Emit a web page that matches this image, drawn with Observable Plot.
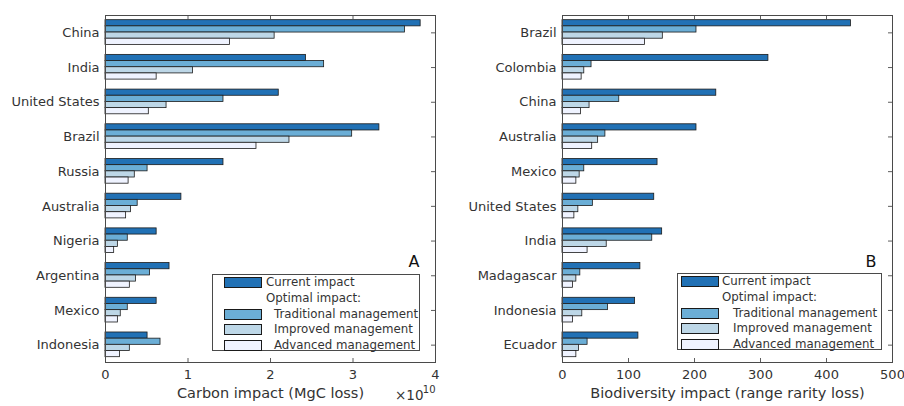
<!DOCTYPE html>
<html><head><meta charset="utf-8">
<script src="https://cdn.jsdelivr.net/npm/d3@7"></script>
<script src="https://cdn.jsdelivr.net/npm/@observablehq/plot@0.6"></script>
<style>
body{margin:0;background:#fff;font-family:"DejaVu Sans",sans-serif;}
#wrap{position:relative;width:904px;height:406px;overflow:hidden;background:#fff;}
.panel{position:absolute;top:0;}
.panel svg{overflow:visible;}
.legend{position:absolute;border:1px solid #4a4a4a;background:#fff;box-sizing:border-box;font-size:11.8px;color:#333;font-family:"DejaVu Sans",sans-serif;}
.legend .sw{position:absolute;height:11px;width:38px;border:1px solid #1a1a1a;box-sizing:border-box;}
.legend .tx{position:absolute;white-space:nowrap;line-height:14px;}
</style></head><body><div id="wrap"></div><script>
// ---------- Data ----------
const seriesNames = ["Current impact", "Traditional management", "Improved management", "Advanced management"];
const seriesColors = ["#2171b5", "#6baed6", "#bdd7e7", "#eff3ff"];

// Panel A: carbon impact (MgC loss)
const countriesA = ["China","India","United States","Brazil","Russia","Australia","Nigeria","Argentina","Mexico","Indonesia"];
const currentA     = [3.82e10, 2.43e10, 2.10e10, 3.32e10, 1.43e10, 0.92e10, 0.62e10, 0.776e10, 0.62e10, 0.51e10];
const traditionalA = [3.63e10, 2.65e10, 1.43e10, 2.99e10, 0.51e10, 0.39e10, 0.27e10, 0.54e10, 0.27e10, 0.667e10];
const improvedA    = [2.05e10, 1.06e10, 0.74e10, 2.23e10, 0.355e10, 0.31e10, 0.15e10, 0.37e10, 0.185e10, 0.295e10];
const advancedA    = [1.51e10, 0.62e10, 0.525e10, 1.83e10, 0.28e10, 0.25e10, 0.105e10, 0.295e10, 0.15e10, 0.175e10];
const xTicksA = [0, 1e10, 2e10, 3e10, 4e10];
const xLabelA = "Carbon impact (MgC loss)";

// Panel B: biodiversity impact (range rarity loss)
const countriesB = ["Brazil","Colombia","China","Australia","Mexico","United States","India","Madagascar","Indonesia","Ecuador"];
const currentB     = [437, 312, 233, 203, 144, 139, 151, 118, 110, 115];
const traditionalB = [203, 44, 86, 65, 33, 46, 136, 27, 69, 38];
const improvedB    = [152, 33, 41, 54, 26, 24, 67, 21, 30, 25];
const advancedB    = [125, 29, 28, 45, 21, 18, 38, 16, 16, 21];
const xTicksB = [0, 100, 200, 300, 400, 500];
const xLabelB = "Biodiversity impact (range rarity loss)";

const legendHeader = "Optimal impact:";

// ---------- Drawing ----------
const W = 452, H = 406, MT = 15, MB = 44;
const INK = "#333333";
const wrap = document.getElementById("wrap");

function panel({left, ml, mr, countries, series, xTicks, tickFormat, xLabel, letter, exponent}) {
  const plotH = H - MT - MB;
  const plotW = W - ml - mr;
  const band = plotH / countries.length;
  const barH = band * 0.178;
  const off = band * 0.135;
  const rows = countries.map((c, i) => ({country: c, v: series.map(s => s[i])}));
  const marks = [];
  // left ticks (behind bars)
  marks.push(Plot.tickY(countries, {y: d => d, insetRight: plotW - 4, stroke: INK, strokeWidth: 0.8}));
  series.forEach((s, k) => {
    marks.push(Plot.barX(rows, {
      y: "country", x: d => d.v[k], fill: seriesColors[k],
      stroke: "#1a1a1a", strokeWidth: 0.8,
      insetTop: off + k * barH, insetBottom: band - off - (k + 1) * barH
    }));
  });
  const inner = xTicks.slice(1, -1);
  marks.push(Plot.tickX(inner, {x: d => d, insetTop: plotH - 4, stroke: INK, strokeWidth: 0.8}));
  marks.push(Plot.tickX(inner, {x: d => d, insetBottom: plotH - 4, stroke: INK, strokeWidth: 0.8}));
  marks.push(Plot.tickY(countries, {y: d => d, insetLeft: plotW - 4, stroke: INK, strokeWidth: 0.8}));
  marks.push(Plot.frame({stroke: "#4a4a4a", strokeWidth: 1}));
  marks.push(Plot.axisX({ticks: xTicks, tickFormat, tickSize: 0, tickPadding: 7, fontSize: 13, label: null, fill: INK}));
  marks.push(Plot.axisY({tickSize: 0, tickPadding: 6, fontSize: 13, label: null, fill: INK}));
  marks.push(Plot.text([xLabel], {text: d => d, frameAnchor: "bottom", dy: 35, fontSize: 14.5, fill: INK}));
  marks.push(Plot.text([letter], {text: d => d, frameAnchor: "top-right", dx: -16, dy: 240, fontSize: 16, fill: "#111"}));
  if (exponent) {
    marks.push(Plot.text(["×10"], {text: d => d, frameAnchor: "bottom-right", textAnchor: "end", dx: -12, dy: 37, fontSize: 13.5, fill: INK}));
    marks.push(Plot.text([exponent], {text: d => d, frameAnchor: "bottom-right", textAnchor: "end", dx: 0, dy: 30, fontSize: 10, fill: INK}));
  }
  const svg = Plot.plot({
    width: W, height: H,
    marginTop: MT, marginBottom: MB, marginLeft: ml, marginRight: mr,
    style: {fontFamily: "DejaVu Sans", fontSize: "13px", color: INK, background: "transparent", overflow: "visible"},
    x: {domain: [xTicks[0], xTicks[xTicks.length - 1]]},
    y: {domain: countries, padding: 0, round: false},
    marks
  });
  const d = document.createElement("div");
  d.className = "panel";
  d.style.left = left + "px";
  d.appendChild(svg);
  wrap.appendChild(d);
}

function legend({left, top, width, height, swX, txX, indentX}) {
  const box = document.createElement("div");
  box.className = "legend";
  Object.assign(box.style, {left: left + "px", top: top + "px", width: width + "px", height: height + "px"});
  // rows: current, header, traditional, improved, advanced
  const rowY = [7, 23, 39, 54, 70];
  const items = [
    {sw: 0, text: seriesNames[0], x: txX, y: rowY[0]},
    {sw: null, text: legendHeader, x: txX, y: rowY[1]},
    {sw: 1, text: seriesNames[1], x: indentX, y: rowY[2]},
    {sw: 2, text: seriesNames[2], x: indentX, y: rowY[3]},
    {sw: 3, text: seriesNames[3], x: indentX, y: rowY[4]},
  ];
  items.forEach(it => {
    if (it.sw !== null) {
      const s = document.createElement("div");
      s.className = "sw";
      Object.assign(s.style, {left: swX + "px", top: (it.y - 5.5) + "px", background: seriesColors[it.sw]});
      box.appendChild(s);
    }
    const t = document.createElement("div");
    t.className = "tx";
    t.textContent = it.text;
    Object.assign(t.style, {left: it.x + "px", top: (it.y - 7) + "px"});
    box.appendChild(t);
  });
  wrap.appendChild(box);
}

panel({left: 0, ml: 105, mr: 17, countries: countriesA,
  series: [currentA, traditionalA, improvedA, advancedA],
  xTicks: xTicksA, tickFormat: d => d / 1e10, xLabel: xLabelA, letter: "A", exponent: "10"});
panel({left: 452, ml: 110, mr: 12, countries: countriesB,
  series: [currentB, traditionalB, improvedB, advancedB],
  xTicks: xTicksB, tickFormat: d => d, xLabel: xLabelB, letter: "B", exponent: null});

legend({left: 212, top: 274, width: 208, height: 77, swX: 11, txX: 53, indentX: 61});
legend({left: 677, top: 273, width: 205, height: 77, swX: 3, txX: 44, indentX: 55});
</script></body></html>
